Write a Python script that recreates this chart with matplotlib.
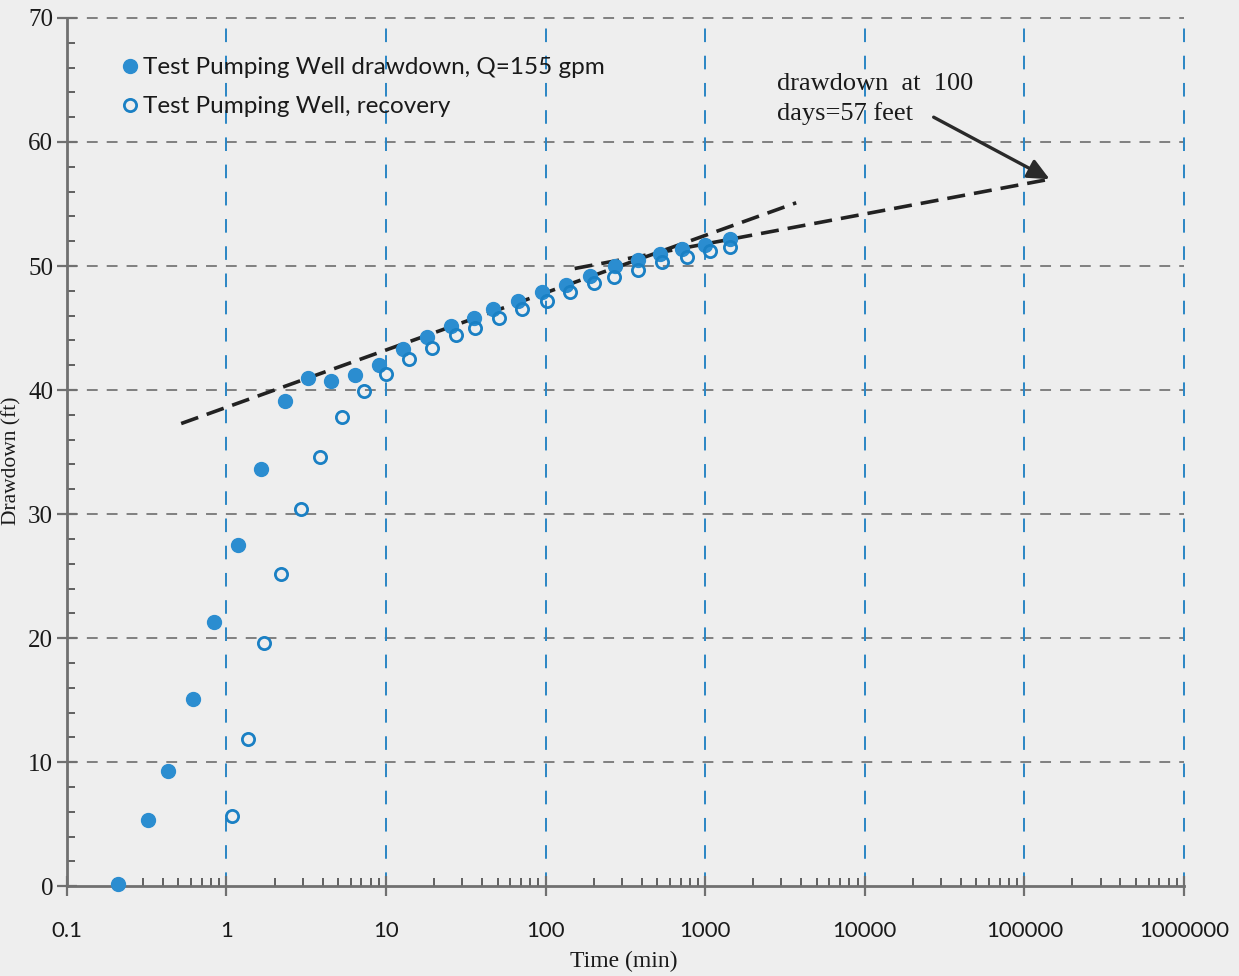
import matplotlib
matplotlib.use("Agg")
import matplotlib.pyplot as plt
from matplotlib.lines import Line2D
from matplotlib.ticker import FixedLocator, LogLocator, NullFormatter, FixedFormatter

# Pumping test: drawdown (ft) versus elapsed time (min)
t_drawdown = [0.21, 0.32, 0.43, 0.62, 0.84, 1.18, 1.65, 2.32, 3.22, 4.55, 6.43, 9.08,
              12.8, 18.1, 25.5, 35.6, 46.7, 67, 94.6, 134, 189, 271, 377, 518, 710, 991, 1439]
s_drawdown = [0.2, 5.3, 9.3, 15.1, 21.3, 27.5, 33.6, 39.1, 41.0, 40.7, 41.2, 42.0,
              43.3, 44.3, 45.2, 45.8, 46.5, 47.2, 47.9, 48.5, 49.2, 50.0, 50.5, 51.0, 51.4, 51.7, 52.2]

t_recovery = [1.09, 1.36, 1.71, 2.20, 2.91, 3.87, 5.28, 7.24, 10.05, 14.0, 19.5, 27.5,
              36.1, 51, 71, 102, 142, 200, 267, 378, 533, 764, 1064, 1439]
s_recovery = [5.7, 11.9, 19.6, 25.2, 30.4, 34.6, 37.8, 39.9, 41.3, 42.5, 43.4, 44.4,
              45.0, 45.8, 46.5, 47.2, 47.9, 48.6, 49.1, 49.7, 50.3, 50.7, 51.2, 51.5]

# Straight-line (Cooper-Jacob) fits
early_fit_t = [0.52, 3715]
early_fit_s = [37.3, 55.1]
late_fit_t = [152, 144000]      # 144000 min = 100 days
late_fit_s = [49.8, 57.0]

# Annotation
note_text = "drawdown  at  100\ndays=57 feet"
note_xy = (2800, 65.6)
arrow_tail = (27000, 62.0)

x_ticks = [0.1, 1, 10, 100, 1000, 10000, 100000, 1000000]
x_tick_labels = ["0.1", "1", "10", "100", "1000", "10000", "100000", "1000000"]
y_ticks = [0, 10, 20, 30, 40, 50, 60, 70]

label_drawdown = "Test Pumping Well drawdown, Q=155 gpm"
label_recovery = "Test Pumping Well, recovery"

paper = "#eeeeee"
blue_fill = "#2b8dd0"
blue_edge = "#1a80c4"
grid_blue = "#2a86c4"
grid_grey = "#777777"
spine_grey = "#707070"

fig = plt.figure(figsize=(12.39, 9.76), dpi=100, facecolor=paper)
ax = fig.add_axes([0.054, 0.092, 0.9016, 0.8896], facecolor=paper)

ax.set_xscale("log")
ax.set_xlim(0.1, 1e6)
ax.set_ylim(0, 70)

# dashed grid: grey horizontals, blue verticals
for y in y_ticks[1:]:
    ax.axhline(y, color=grid_grey, lw=1.3, dashes=(6, 5), zorder=1, clip_on=False)
for x in x_ticks[1:]:
    ax.axvline(x, color=grid_blue, lw=1.4, dashes=(7, 7), zorder=1, clip_on=False)

# fitted straight lines
ax.plot(early_fit_t, early_fit_s, color="#222222", lw=2.6, dashes=(5, 2.5), zorder=3)
ax.plot(late_fit_t, late_fit_s, color="#222222", lw=2.6, dashes=(5, 2.5), zorder=3)

# observations
ax.plot(t_drawdown, s_drawdown, "o", ms=10, color=blue_fill, mec=blue_fill, zorder=4,
        clip_on=False)
ax.plot(t_recovery, s_recovery, "o", ms=8.8, mfc="none", mec=blue_edge, mew=2.0, zorder=4)

# annotation with arrow
ax.text(note_xy[0], note_xy[1], note_text, ha="left", va="top", fontsize=19,
        family="Liberation Serif", color="#1a1a1a", linespacing=1.4)
ax.annotate("", xy=(late_fit_t[-1], late_fit_s[-1]), xytext=arrow_tail,
            arrowprops=dict(arrowstyle="-|>,head_length=1.3,head_width=0.6",
                            color="#2a2a2a", lw=2.4, shrinkA=0, shrinkB=0), zorder=5)

# spines
for side in ("top", "right"):
    ax.spines[side].set_visible(False)
for side in ("left", "bottom"):
    ax.spines[side].set_color(spine_grey)
    ax.spines[side].set_linewidth(2)

# ticks
ax.xaxis.set_major_locator(FixedLocator(x_ticks))
ax.xaxis.set_major_formatter(FixedFormatter(x_tick_labels))
ax.xaxis.set_minor_locator(LogLocator(base=10, subs=range(2, 10), numticks=20))
ax.xaxis.set_minor_formatter(NullFormatter())
ax.yaxis.set_major_locator(FixedLocator(y_ticks))
ax.yaxis.set_minor_locator(FixedLocator([v for v in range(0, 71, 2) if v % 10]))

ax.tick_params(axis="x", which="major", direction="inout", length=14, width=1.6,
               color=spine_grey, pad=18, labelsize=16, labelcolor="#1a1a1a")
ax.tick_params(axis="x", which="minor", direction="in", length=6, width=1.3, color="#555555")
ax.tick_params(axis="y", which="major", direction="inout", length=14, width=1.6,
               color=spine_grey, pad=3, labelsize=18, labelcolor="#1a1a1a")
ax.tick_params(axis="y", which="minor", direction="in", length=6, width=1.3, color="#555555")
for lab in ax.get_xticklabels():
    lab.set_family("Lato")
for lab in ax.get_yticklabels():
    lab.set_family("Liberation Serif")

ax.set_xlabel("Time (min)", family="Liberation Serif", fontsize=17, color="#1a1a1a")
ax.xaxis.set_label_coords(0.4987, -0.074)
ax.set_ylabel("Drawdown (ft)", family="Liberation Serif", fontsize=15.5, color="#1a1a1a")
ax.yaxis.set_label_coords(-0.041, 0.49)

handles = [
    Line2D([], [], ls="none", marker="o", ms=10, color=blue_fill),
    Line2D([], [], ls="none", marker="o", ms=8.8, mfc="none", mec=blue_edge, mew=2.0),
]
ax.legend(handles, [label_drawdown, label_recovery], loc="upper left",
          bbox_to_anchor=(0.028, 0.98), frameon=False, handlelength=0.8,
          handletextpad=0.15, labelspacing=0.75, prop={"family": "Lato", "size": 17.5},
          labelcolor="#1a1a1a")

fig.savefig("out.png", dpi=100, facecolor=paper)
